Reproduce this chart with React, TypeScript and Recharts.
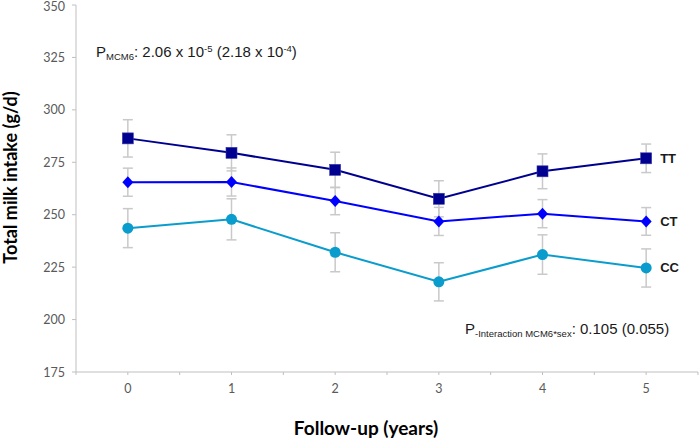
import React from "react";
import {
  LineChart,
  Line,
  XAxis,
  YAxis,
  ErrorBar,
  LabelList,
} from "recharts";

const years = [0, 1, 2, 3, 4, 5];
const ttMean = [286.4, 279.5, 271.4, 257.6, 270.7, 276.9];
const ttErr = [8.9, 8.6, 8.4, 8.6, 8.3, 6.8];
const ctMean = [265.5, 265.6, 256.5, 246.8, 250.5, 246.8];
const ctErr = [6.7, 6.7, 6.5, 6.7, 6.7, 6.6];
const ccMean = [243.6, 247.8, 232.1, 218.0, 231.0, 224.6];
const ccErr = [9.3, 9.8, 9.3, 9.1, 9.4, 9.1];

const yTicks = [175, 200, 225, 250, 275, 300, 325, 350];
const xTicks = [-0.5, 0, 0.5, 1, 1.5, 2, 2.5, 3, 3.5, 4, 4.5, 5, 5.5];

const data = years.map((y, i) => ({
  year: y,
  tt: ttMean[i],
  ttErr: ttErr[i],
  ct: ctMean[i],
  ctErr: ctErr[i],
  cc: ccMean[i],
  ccErr: ccErr[i],
}));

const TT_COLOR = "#000090";
const CT_COLOR = "#0000ff";
const CC_COLOR = "#0a9ccc";
const AXIS_COLOR = "#bfbfbf";
const ERR_COLOR = "#c9c9c9";

const SquareDot = (props: any) => {
  const { cx, cy, index } = props;
  return (
    <rect key={"tt" + index} x={cx - 5.5} y={cy - 5.5} width={11} height={11}
      fill={TT_COLOR} stroke="#3a3aa8" strokeWidth={0.6} />
  );
};

const DiamondDot = (props: any) => {
  const { cx, cy, index } = props;
  return (
    <polygon key={"ct" + index}
      points={`${cx},${cy - 6} ${cx + 5.5},${cy} ${cx},${cy + 6} ${cx - 5.5},${cy}`}
      fill={CT_COLOR} />
  );
};

const CircleDot = (props: any) => {
  const { cx, cy, index } = props;
  return <circle key={"cc" + index} cx={cx} cy={cy} r={5.5} fill={CC_COLOR} />;
};

// series name printed to the right of the last point
const endLabel = (name: string) => (props: any) => {
  const { x, y, index } = props;
  if (index !== years.length - 1) return null;
  return (
    <text x={x + 14} y={y} dy={4.5} fontFamily="Liberation Sans, Arial" fontWeight="bold"
      fontSize={13} fill="#1a1a1a">
      {name}
    </text>
  );
};

const FONT = "Lato, Open Sans, sans-serif";
const tickStyle = { fontFamily: FONT, fontSize: 12.5, fill: "#595959" };

// keep the top label (350) inside the picture
const YTick = (props: any) => {
  const { x, y, payload } = props;
  return (
    <text x={x} y={Math.max(y, 6)} dy={4.5} textAnchor="end" fontFamily={FONT}
      fontSize={12.5} fill="#595959">
      {payload.value}
    </text>
  );
};

export default function App() {
  return (
    <div style={{ position: "absolute", left: 0, top: 0, width: 700, height: 439, background: "#fff" }}>
      <LineChart width={700} height={439} data={data}
        margin={{ top: 5, right: 2, left: 0, bottom: 37 }}>
        <XAxis dataKey="year" type="number" domain={[-0.5, 5.5]} ticks={xTicks}
          interval={0} tickFormatter={(v: number) => (Number.isInteger(v) ? String(v) : "")}
          stroke={AXIS_COLOR} tickSize={3} tickMargin={9} height={30} tick={tickStyle} />
        <YAxis domain={[175, 350]} ticks={yTicks} width={76} stroke={AXIS_COLOR}
          tickSize={4} tickMargin={7} tick={<YTick />} interval={0} />
        <Line dataKey="tt" stroke={TT_COLOR} strokeWidth={2} dot={SquareDot}
          isAnimationActive={false}>
          <ErrorBar dataKey="ttErr" width={5} stroke={ERR_COLOR} strokeWidth={1.5} direction="y" />
          <LabelList dataKey="tt" content={endLabel("TT")} />
        </Line>
        <Line dataKey="ct" stroke={CT_COLOR} strokeWidth={2} dot={DiamondDot}
          isAnimationActive={false}>
          <ErrorBar dataKey="ctErr" width={5} stroke={ERR_COLOR} strokeWidth={1.5} direction="y" />
          <LabelList dataKey="ct" content={endLabel("CT")} />
        </Line>
        <Line dataKey="cc" stroke={CC_COLOR} strokeWidth={2} dot={CircleDot}
          isAnimationActive={false}>
          <ErrorBar dataKey="ccErr" width={5} stroke={ERR_COLOR} strokeWidth={1.5} direction="y" />
          <LabelList dataKey="cc" content={endLabel("CC")} />
        </Line>
      </LineChart>
      <svg width={700} height={439} style={{ position: "absolute", left: 0, top: 0, pointerEvents: "none" }}>
        <text x={0} y={0} transform="translate(17,177.5) rotate(-90)" textAnchor="middle"
          fontFamily={FONT} fontWeight="bold" fontSize={18} fill="#000">
          Total milk intake (g/d)
        </text>
        <text x={366} y={435} textAnchor="middle" fontFamily={FONT}
          fontWeight="bold" fontSize={19} fill="#000">
          Follow-up (years)
        </text>
        <text x={96} y={57} fontFamily="Liberation Sans, Arial" fontSize={15} fill="#1a1a1a">
          P<tspan fontSize={9.5} dy={3}>MCM6</tspan>
          <tspan dy={-3}>: 2.06 x 10</tspan>
          <tspan fontSize={9.5} dy={-5}>-5</tspan>
          <tspan dy={5}> (2.18 x 10</tspan>
          <tspan fontSize={9.5} dy={-5}>-4</tspan>
          <tspan dy={5}>)</tspan>
        </text>
        <text x={465} y={334} fontFamily="Liberation Sans, Arial" fontSize={15} fill="#1a1a1a">
          P<tspan fontSize={9.5} dy={3}>-Interaction MCM6*sex</tspan>
          <tspan dy={-3}>: 0.105 (0.055)</tspan>
        </text>
      </svg>
    </div>
  );
}
